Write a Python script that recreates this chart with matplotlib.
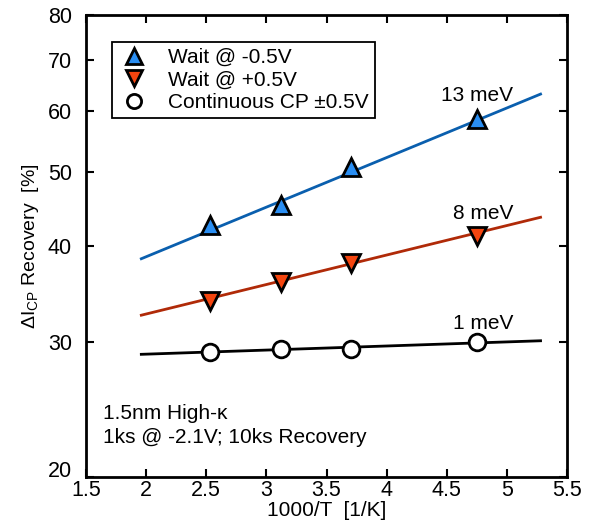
import matplotlib
matplotlib.use("Agg")
import matplotlib.pyplot as plt
from matplotlib.ticker import FixedLocator, NullLocator, FixedFormatter

plt.rcParams['font.family'] = ['Liberation Sans', 'DejaVu Sans']
plt.rcParams['mathtext.fontset'] = 'custom'
plt.rcParams['mathtext.rm'] = 'Liberation Sans'
plt.rcParams['mathtext.it'] = 'Liberation Sans:italic'

# Inverse temperature (1000/T) of the measurements
inv_T = [2.53, 3.12, 3.70, 4.75]

# Recovery fraction [%]
wait_neg = [42.6, 45.2, 50.7, 58.6]
wait_pos = [33.9, 35.9, 38.0, 41.2]
continuous = [29.1, 29.4, 29.4, 30.0]

# Arrhenius fit lines (end points)
fit_x = [1.96, 5.28]
fit_neg = [38.5, 63.1]
fit_pos = [32.5, 43.6]
fit_cont = [28.9, 30.1]

activation_labels = ["13 meV", "8 meV", "1 meV"]
label_y = [62.9, 44.1, 31.7]

x_ticks = [1.5, 2, 2.5, 3, 3.5, 4, 4.5, 5, 5.5]
y_ticks = [20, 30, 40, 50, 60, 70, 80]

blue_line = "#0a5fae"
blue_fill = "#2a8ef2"
red_line = "#b02a08"
red_fill = "#f5450f"

fig = plt.figure(figsize=(5.92, 5.26), dpi=100)
ax = fig.add_axes([86/592, 49/526, 481/592, 462/526])
ax.set_yscale('log')
ax.set_xlim(1.5, 5.5)
ax.set_ylim(20, 80)

ax.plot(fit_x, fit_neg, color=blue_line, lw=2, zorder=2)
ax.plot(fit_x, fit_pos, color=red_line, lw=2, zorder=2)
ax.plot(fit_x, fit_cont, color='black', lw=2, zorder=2)

h1, = ax.plot(inv_T, wait_neg, ls='none', marker='^', ms=13, mfc=blue_fill,
              mec='black', mew=2, label='Wait @ -0.5V', zorder=3)
h2, = ax.plot(inv_T, wait_pos, ls='none', marker='v', ms=13, mfc=red_fill,
              mec='black', mew=2, label='Wait @ +0.5V', zorder=3)
h3, = ax.plot(inv_T, continuous, ls='none', marker='o', ms=12, mfc='white',
              mec='black', mew=2, label='Continuous CP \u00b10.5V', zorder=3)

for txt, yv in zip(activation_labels, label_y):
    ax.text(5.05, yv, txt, ha='right', va='center', fontsize=15)

ax.text(1.64, 24.2, "1.5nm High-\u03ba", ha='left', va='center', fontsize=15)
ax.text(1.64, 22.5, "1ks @ -2.1V; 10ks Recovery", ha='left', va='center', fontsize=15)

ax.xaxis.set_major_locator(FixedLocator(x_ticks))
ax.set_xticklabels([f"{v:g}" for v in x_ticks])
ax.yaxis.set_major_locator(FixedLocator(y_ticks))
ax.yaxis.set_major_formatter(FixedFormatter([str(v) for v in y_ticks]))
ax.yaxis.set_minor_locator(NullLocator())

ax.tick_params(axis='both', which='major', direction='in', length=6, width=1.5,
               top=True, right=True, labelsize=15.5)
ax.tick_params(axis='x', pad=2)
ax.tick_params(axis='y', pad=10)
for s in ax.spines.values():
    s.set_linewidth(2)

# keep the lowest y label clear of the first x label
ax.get_yticklabels()[0].set_va('baseline')

ax.set_xlabel("1000/T  [1/K]", fontsize=15, labelpad=0)
ax.set_ylabel(r"$\Delta$I$_{\rm CP}$ Recovery  [%]", fontsize=14, labelpad=5)

leg = ax.legend(handles=[h1, h2, h3], loc='upper left',
                bbox_to_anchor=(0.054, 0.9416), borderaxespad=0,
                fontsize=15, frameon=True,
                fancybox=False, edgecolor='black', framealpha=1,
                handletextpad=0.9, borderpad=0.3, labelspacing=0.16,
                handlelength=1.5, markerscale=0.85)
leg.get_frame().set_linewidth(1.3)

fig.savefig("out.png", dpi=100)
